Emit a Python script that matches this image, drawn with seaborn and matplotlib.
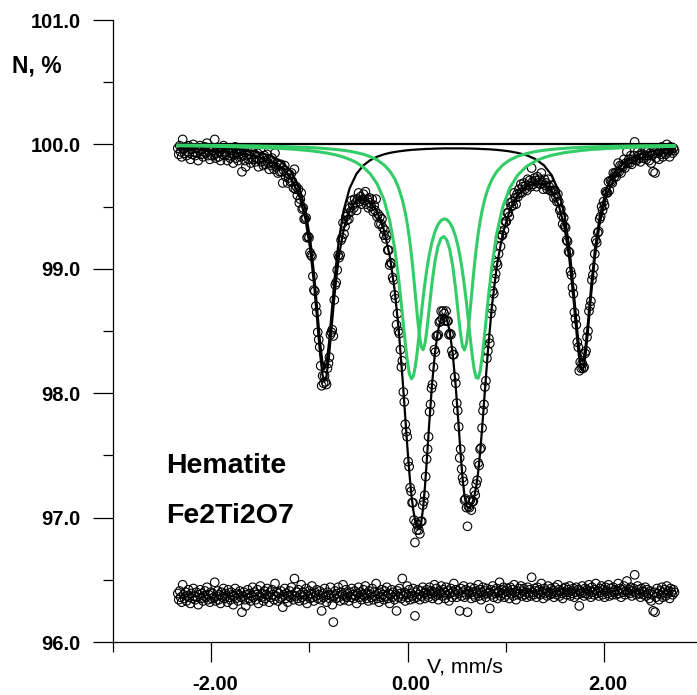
import numpy as np
import matplotlib
matplotlib.use("Agg")
import matplotlib.pyplot as plt
import matplotlib.transforms as mtransforms
import seaborn as sns
from matplotlib.ticker import MultipleLocator, FormatStrFormatter

# %%
# velocity channels (mm/s), evenly spaced
v_first, v_last, n_channels = -2.34, 2.72, 512
vel = np.linspace(v_first, v_last, n_channels)
baseline = 100.0

# measured spectrum, N %
transmission = [
    99.97, 99.92, 99.99, 99.94, 99.90, 100.04, 99.96, 99.93, 99.98, 99.91, 99.94, 99.99, 99.93, 99.88, 99.96, 99.92,
    100.00, 99.94, 99.91, 99.97, 99.93, 99.87, 99.95, 99.99, 99.92, 99.96, 99.90, 99.94, 99.98, 99.93, 100.01, 99.91,
    99.95, 99.88, 99.96, 99.91, 99.95, 99.92, 100.04, 99.89, 99.93, 99.97, 99.90, 99.94, 99.87, 99.96, 99.92, 99.99,
    99.91, 99.94, 99.92, 99.87, 99.97, 99.91, 99.89, 99.95, 99.93, 99.85, 99.92, 99.98, 99.89, 99.93, 99.87, 99.92,
    99.95, 99.90, 99.78, 99.91, 99.94, 99.87, 99.82, 99.91, 99.95, 99.88, 99.92, 99.85, 99.89, 99.96, 99.88, 99.92,
    99.86, 99.89, 99.93, 99.82, 99.88, 99.96, 99.86, 99.89, 99.83, 99.91, 99.84, 99.87, 99.92, 99.85, 99.80, 99.88,
    99.83, 99.89, 99.85, 99.80, 99.93, 99.82, 99.85, 99.77, 99.83, 99.78, 99.84, 99.78, 99.69, 99.79, 99.83, 99.74,
    99.77, 99.69, 99.73, 99.76, 99.70, 99.77, 99.70, 99.65, 99.80, 99.64, 99.66, 99.59, 99.64, 99.53, 99.56, 99.61,
    99.48, 99.49, 99.40, 99.40, 99.41, 99.25, 99.26, 99.25, 99.13, 99.11, 99.10, 98.94, 98.83, 98.82, 98.70, 98.65,
    98.49, 98.43, 98.37, 98.22, 98.06, 98.14, 98.08, 98.14, 98.09, 98.07, 98.20, 98.24, 98.29, 98.47, 98.49, 98.51,
    98.46, 98.75, 98.87, 98.89, 98.99, 99.11, 99.09, 99.11, 99.23, 99.25, 99.37, 99.28, 99.34, 99.42, 99.39, 99.44,
    99.40, 99.49, 99.46, 99.55, 99.51, 99.49, 99.56, 99.53, 99.47, 99.56, 99.61, 99.54, 99.58, 99.52, 99.56, 99.60,
    99.55, 99.62, 99.52, 99.56, 99.49, 99.57, 99.53, 99.50, 99.56, 99.46, 99.51, 99.47, 99.56, 99.42, 99.44, 99.36,
    99.42, 99.36, 99.40, 99.33, 99.27, 99.31, 99.24, 99.27, 99.15, 99.15, 99.03, 99.05, 99.04, 98.93, 98.91, 98.79,
    98.76, 98.55, 98.64, 98.50, 98.48, 98.35, 98.21, 98.26, 98.01, 97.93, 97.75, 97.69, 97.65, 97.45, 97.41, 97.24,
    97.21, 97.12, 97.12, 96.98, 96.80, 96.96, 96.90, 96.94, 96.90, 96.87, 96.97, 96.97, 97.10, 97.13, 97.18, 97.33,
    97.47, 97.55, 97.65, 97.85, 97.91, 98.04, 98.07, 98.21, 98.35, 98.33, 98.46, 98.46, 98.47, 98.57, 98.58, 98.66,
    98.60, 98.66, 98.64, 98.58, 98.66, 98.58, 98.58, 98.47, 98.48, 98.47, 98.34, 98.31, 98.31, 98.13, 98.08, 97.92,
    97.86, 97.73, 97.48, 97.55, 97.39, 97.32, 97.29, 97.14, 97.15, 97.08, 96.93, 97.09, 97.08, 97.14, 97.06, 97.13,
    97.13, 97.21, 97.18, 97.27, 97.30, 97.44, 97.42, 97.55, 97.56, 97.72, 97.86, 97.91, 98.05, 98.10, 98.28, 98.34,
    98.44, 98.40, 98.64, 98.68, 98.82, 98.80, 98.92, 98.96, 99.05, 99.03, 99.12, 99.25, 99.18, 99.27, 99.27, 99.36,
    99.31, 99.38, 99.38, 99.45, 99.45, 99.42, 99.53, 99.50, 99.54, 99.51, 99.61, 99.57, 99.52, 99.60, 99.58, 99.64,
    99.61, 99.68, 99.61, 99.66, 99.69, 99.64, 99.67, 99.63, 99.72, 99.67, 99.71, 99.66, 99.81, 99.70, 99.68, 99.73,
    99.71, 99.66, 99.74, 99.69, 99.72, 99.68, 99.77, 99.69, 99.64, 99.72, 99.67, 99.69, 99.64, 99.72, 99.66, 99.63,
    99.67, 99.62, 99.63, 99.57, 99.63, 99.58, 99.54, 99.60, 99.54, 99.47, 99.48, 99.43, 99.36, 99.41, 99.34, 99.33,
    99.23, 99.22, 99.14, 99.13, 98.98, 98.95, 98.85, 98.80, 98.65, 98.60, 98.55, 98.41, 98.37, 98.18, 98.25, 98.20,
    98.24, 98.20, 98.21, 98.32, 98.34, 98.45, 98.50, 98.66, 98.70, 98.74, 98.91, 98.95, 99.01, 99.12, 99.23, 99.21,
    99.29, 99.30, 99.40, 99.42, 99.50, 99.47, 99.54, 99.51, 99.62, 99.61, 99.61, 99.70, 99.63, 99.71, 99.70, 99.69,
    99.77, 99.74, 99.77, 99.74, 99.78, 99.85, 99.78, 99.83, 99.77, 99.83, 99.82, 99.88, 99.81, 99.85, 99.94, 99.85,
    99.88, 99.85, 99.91, 99.84, 99.88, 99.91, 100.02, 99.88, 99.87, 99.94, 99.91, 99.89, 99.86, 99.93, 99.92, 99.89,
    99.91, 99.95, 99.88, 99.94, 99.91, 99.87, 99.93, 99.85, 99.91, 99.78, 99.93, 99.77, 99.89, 99.96, 99.93, 99.88,
    99.95, 99.92, 99.98, 99.90, 99.94, 99.96, 99.92, 100.00, 99.94, 99.96, 99.90, 99.98, 99.95, 99.93, 99.97, 99.95,
]

# residual row drawn under the spectrum
resid = [
    96.39, 96.34, 96.41, 96.36, 96.32, 96.46, 96.38, 96.35, 96.40, 96.33, 96.37, 96.42, 96.36, 96.31, 96.39, 96.35,
    96.43, 96.37, 96.34, 96.40, 96.36, 96.30, 96.38, 96.42, 96.35, 96.39, 96.33, 96.37, 96.41, 96.36, 96.44, 96.34,
    96.38, 96.32, 96.40, 96.35, 96.39, 96.36, 96.48, 96.33, 96.37, 96.41, 96.34, 96.38, 96.31, 96.40, 96.36, 96.43,
    96.35, 96.39, 96.37, 96.32, 96.42, 96.36, 96.34, 96.40, 96.38, 96.30, 96.37, 96.43, 96.35, 96.39, 96.33, 96.38,
    96.41, 96.36, 96.24, 96.37, 96.40, 96.34, 96.29, 96.38, 96.42, 96.35, 96.39, 96.33, 96.37, 96.44, 96.36, 96.40,
    96.34, 96.38, 96.42, 96.31, 96.37, 96.45, 96.36, 96.39, 96.33, 96.41, 96.35, 96.38, 96.43, 96.37, 96.32, 96.40,
    96.36, 96.42, 96.38, 96.34, 96.47, 96.37, 96.40, 96.33, 96.39, 96.35, 96.41, 96.36, 96.28, 96.38, 96.43, 96.35,
    96.39, 96.32, 96.37, 96.41, 96.36, 96.44, 96.38, 96.34, 96.51, 96.37, 96.40, 96.35, 96.42, 96.33, 96.38, 96.46,
    96.36, 96.40, 96.34, 96.38, 96.43, 96.31, 96.37, 96.41, 96.35, 96.39, 96.45, 96.36, 96.33, 96.40, 96.37, 96.42,
    96.35, 96.38, 96.41, 96.34, 96.25, 96.39, 96.36, 96.43, 96.37, 96.32, 96.40, 96.38, 96.35, 96.44, 96.37, 96.30,
    96.16, 96.37, 96.41, 96.35, 96.39, 96.44, 96.36, 96.33, 96.40, 96.38, 96.46, 96.34, 96.37, 96.42, 96.36, 96.39,
    96.33, 96.40, 96.36, 96.43, 96.38, 96.35, 96.41, 96.37, 96.31, 96.39, 96.44, 96.36, 96.40, 96.34, 96.38, 96.42,
    96.37, 96.45, 96.35, 96.39, 96.33, 96.41, 96.38, 96.36, 96.43, 96.34, 96.40, 96.37, 96.47, 96.35, 96.39, 96.32,
    96.40, 96.36, 96.42, 96.38, 96.34, 96.41, 96.37, 96.44, 96.35, 96.39, 96.31, 96.38, 96.42, 96.36, 96.40, 96.34,
    96.38, 96.25, 96.41, 96.36, 96.43, 96.39, 96.35, 96.51, 96.37, 96.40, 96.33, 96.38, 96.45, 96.36, 96.42, 96.34,
    96.39, 96.37, 96.43, 96.35, 96.21, 96.40, 96.36, 96.42, 96.38, 96.34, 96.41, 96.37, 96.44, 96.39, 96.35, 96.40,
    96.42, 96.38, 96.36, 96.44, 96.39, 96.41, 96.35, 96.40, 96.46, 96.37, 96.43, 96.38, 96.34, 96.41, 96.39, 96.45,
    96.37, 96.42, 96.40, 96.35, 96.44, 96.38, 96.41, 96.33, 96.39, 96.43, 96.36, 96.40, 96.47, 96.38, 96.42, 96.36,
    96.41, 96.39, 96.25, 96.43, 96.37, 96.40, 96.45, 96.36, 96.42, 96.38, 96.24, 96.41, 96.39, 96.44, 96.35, 96.40,
    96.38, 96.43, 96.36, 96.41, 96.39, 96.46, 96.37, 96.42, 96.34, 96.40, 96.44, 96.38, 96.41, 96.36, 96.43, 96.39,
    96.40, 96.27, 96.42, 96.38, 96.45, 96.36, 96.41, 96.39, 96.43, 96.35, 96.40, 96.48, 96.37, 96.42, 96.39, 96.44,
    96.36, 96.41, 96.38, 96.43, 96.40, 96.35, 96.44, 96.39, 96.42, 96.37, 96.46, 96.40, 96.34, 96.41, 96.38, 96.43,
    96.39, 96.45, 96.37, 96.41, 96.43, 96.38, 96.40, 96.36, 96.44, 96.39, 96.42, 96.37, 96.52, 96.40, 96.38, 96.43,
    96.41, 96.36, 96.44, 96.39, 96.42, 96.38, 96.47, 96.40, 96.35, 96.43, 96.39, 96.41, 96.37, 96.45, 96.40, 96.38,
    96.43, 96.39, 96.41, 96.36, 96.44, 96.40, 96.38, 96.46, 96.42, 96.37, 96.41, 96.39, 96.35, 96.43, 96.40, 96.44,
    96.38, 96.42, 96.40, 96.45, 96.37, 96.41, 96.39, 96.43, 96.36, 96.40, 96.44, 96.38, 96.42, 96.29, 96.41, 96.39,
    96.45, 96.40, 96.37, 96.43, 96.39, 96.42, 96.38, 96.46, 96.41, 96.36, 96.44, 96.40, 96.38, 96.42, 96.47, 96.39,
    96.41, 96.37, 96.43, 96.40, 96.45, 96.38, 96.42, 96.36, 96.44, 96.41, 96.39, 96.46, 96.37, 96.43, 96.40, 96.38,
    96.44, 96.40, 96.42, 96.38, 96.41, 96.47, 96.39, 96.43, 96.36, 96.42, 96.40, 96.45, 96.38, 96.41, 96.49, 96.40,
    96.42, 96.39, 96.44, 96.37, 96.41, 96.43, 96.54, 96.40, 96.38, 96.45, 96.42, 96.39, 96.36, 96.43, 96.41, 96.38,
    96.40, 96.44, 96.37, 96.42, 96.39, 96.35, 96.41, 96.33, 96.38, 96.25, 96.40, 96.24, 96.36, 96.43, 96.39, 96.34,
    96.41, 96.38, 96.44, 96.36, 96.40, 96.42, 96.37, 96.45, 96.39, 96.41, 96.35, 96.43, 96.40, 96.38, 96.42, 96.40,
]

# fitted curves, sampled at x_fit
x_fit = [-2.34, -2.15, -1.95, -1.75, -1.55, -1.40, -1.28, -1.18, -1.10, -1.04, -0.99, -0.95, -0.92, -0.89, -0.865,
         -0.845, -0.825, -0.80, -0.77, -0.74, -0.70, -0.65, -0.59, -0.52, -0.45, -0.38, -0.31, -0.24, -0.18, -0.13,
         -0.09, -0.05, -0.02, 0.00, 0.02, 0.04, 0.06, 0.08, 0.10, 0.12, 0.14, 0.16, 0.18, 0.20, 0.22, 0.25, 0.28,
         0.31, 0.34, 0.37, 0.40, 0.43, 0.46, 0.49, 0.52, 0.54, 0.56, 0.58, 0.60, 0.62, 0.64, 0.66, 0.68, 0.70, 0.72,
         0.74, 0.76, 0.79, 0.82, 0.86, 0.91, 0.97, 1.04, 1.12, 1.21, 1.30, 1.39, 1.47, 1.54, 1.60, 1.65, 1.69, 1.72,
         1.745, 1.765, 1.78, 1.795, 1.815, 1.84, 1.87, 1.91, 1.96, 2.03, 2.12, 2.24, 2.38, 2.55, 2.72]

hem_fit = [
    99.986, 99.982, 99.975, 99.964, 99.943, 99.910, 99.860, 99.777, 99.648, 99.472,
    99.229, 98.941, 98.673, 98.403, 98.241, 98.196, 98.241, 98.402, 98.672, 98.940,
    99.228, 99.471, 99.646, 99.763, 99.831, 99.873, 99.901, 99.920, 99.932, 99.939,
    99.944, 99.948, 99.951, 99.953, 99.954, 99.956, 99.957, 99.958, 99.959, 99.960,
    99.961, 99.962, 99.963, 99.964, 99.964, 99.965, 99.966, 99.967, 99.967, 99.968,
    99.968, 99.968, 99.968, 99.968, 99.968, 99.968, 99.968, 99.968, 99.967, 99.967,
    99.967, 99.966, 99.966, 99.965, 99.965, 99.964, 99.963, 99.962, 99.961, 99.959,
    99.956, 99.951, 99.944, 99.932, 99.914, 99.883, 99.832, 99.751, 99.624, 99.429,
    99.160, 98.850, 98.582, 98.382, 98.281, 98.256, 98.281, 98.383, 98.582, 98.850,
    99.160, 99.430, 99.649, 99.790, 99.877, 99.925, 99.953, 99.968,
]
fe1_fit = [
    99.989, 99.987, 99.984, 99.981, 99.976, 99.972, 99.967, 99.962, 99.957, 99.953,
    99.949, 99.945, 99.942, 99.939, 99.936, 99.933, 99.931, 99.927, 99.922, 99.917,
    99.909, 99.897, 99.880, 99.854, 99.817, 99.764, 99.684, 99.557, 99.383, 99.162,
    98.918, 98.617, 98.383, 98.249, 98.154, 98.115, 98.138, 98.219, 98.340, 98.483,
    98.631, 98.772, 98.900, 99.011, 99.105, 99.217, 99.299, 99.354, 99.387, 99.401,
    99.396, 99.372, 99.327, 99.259, 99.162, 99.078, 98.979, 98.863, 98.731, 98.586,
    98.438, 98.300, 98.189, 98.125, 98.120, 98.177, 98.286, 98.506, 98.742, 99.023,
    99.287, 99.497, 99.647, 99.751, 99.821, 99.865, 99.894, 99.913, 99.924, 99.934,
    99.939, 99.943, 99.946, 99.949, 99.950, 99.952, 99.953, 99.954, 99.957, 99.959,
    99.961, 99.963, 99.967, 99.970, 99.975, 99.978, 99.982, 99.984,
]
fe2_fit = [
    99.994, 99.993, 99.992, 99.990, 99.988, 99.985, 99.983, 99.980, 99.978, 99.976,
    99.974, 99.973, 99.971, 99.970, 99.968, 99.967, 99.966, 99.964, 99.962, 99.960,
    99.957, 99.952, 99.945, 99.934, 99.921, 99.902, 99.876, 99.836, 99.786, 99.723,
    99.650, 99.547, 99.441, 99.350, 99.241, 99.111, 98.960, 98.792, 98.621, 98.470,
    98.371, 98.349, 98.407, 98.525, 98.672, 98.889, 99.061, 99.178, 99.243, 99.260,
    99.232, 99.156, 99.026, 98.841, 98.619, 98.479, 98.378, 98.347, 98.398, 98.519,
    98.680, 98.852, 99.015, 99.159, 99.282, 99.384, 99.468, 99.568, 99.644, 99.718,
    99.782, 99.834, 99.874, 99.904, 99.926, 99.942, 99.953, 99.960, 99.965, 99.968,
    99.971, 99.973, 99.974, 99.975, 99.976, 99.976, 99.977, 99.978, 99.978, 99.979,
    99.980, 99.982, 99.983, 99.985, 99.987, 99.989, 99.990, 99.992,
]
total_fit = [
    99.968, 99.961, 99.951, 99.935, 99.906, 99.867, 99.810, 99.719, 99.583, 99.401,
    99.152, 98.859, 98.586, 98.311, 98.145, 98.097, 98.138, 98.294, 98.557, 98.817,
    99.094, 99.320, 99.471, 99.551, 99.568, 99.539, 99.460, 99.313, 99.100, 98.824,
    98.513, 98.113, 97.775, 97.552, 97.350, 97.182, 97.055, 96.969, 96.920, 96.913,
    96.963, 97.083, 97.270, 97.500, 97.741, 98.071, 98.326, 98.499, 98.597, 98.629,
    98.596, 98.496, 98.321, 98.068, 97.749, 97.525, 97.325, 97.178, 97.096, 97.072,
    97.085, 97.118, 97.170, 97.249, 97.367, 97.525, 97.717, 98.036, 98.347, 98.700,
    99.025, 99.282, 99.465, 99.587, 99.661, 99.690, 99.679, 99.624, 99.513, 99.331,
    99.070, 98.766, 98.502, 98.306, 98.207, 98.184, 98.211, 98.315, 98.517, 98.788,
    99.101, 99.375, 99.599, 99.745, 99.839, 99.892, 99.925, 99.944,
]

# %%
sns.set_theme(style="ticks")
plt.rcParams['font.family'] = ['Liberation Sans', 'DejaVu Sans']
plt.rcParams['font.weight'] = 'bold'
plt.rcParams['text.color'] = 'black'

fig = plt.figure(figsize=(6.97, 6.95), dpi=100)
ax = fig.add_axes([113 / 697, 53 / 695, 589 / 697, 622 / 695])

# data points and residuals as open circles
sns.scatterplot(x=vel, y=transmission, ax=ax, s=38, facecolor='none', edgecolor='black', linewidth=0.8)
sns.scatterplot(x=vel, y=resid, ax=ax, s=38, facecolor='none', edgecolor='black', linewidth=0.8)

# fit lines: baseline, total, hematite (black) and the two Fe2Ti2O7 doublets (green)
ax.hlines(baseline, vel[0], vel[-1], color='black', lw=1.6)
sns.lineplot(x=x_fit, y=total_fit, ax=ax, color='black', lw=1.6, estimator=None)
sns.lineplot(x=x_fit, y=hem_fit, ax=ax, color='black', lw=1.6, estimator=None)
sns.lineplot(x=x_fit, y=fe1_fit, ax=ax, color='#33cc66', lw=2.2, estimator=None)
sns.lineplot(x=x_fit, y=fe2_fit, ax=ax, color='#33cc66', lw=2.2, estimator=None)

ax.set_xlim(-3, 3)
ax.set_ylim(96, 101)
sns.despine(ax=ax)
for s in ['left', 'bottom']:
    ax.spines[s].set_color('black')
    ax.spines[s].set_linewidth(0.9)

ax.xaxis.set_major_locator(MultipleLocator(2))
ax.xaxis.set_minor_locator(MultipleLocator(1))
ax.yaxis.set_major_locator(MultipleLocator(1))
ax.yaxis.set_minor_locator(MultipleLocator(0.5))
ax.xaxis.set_major_formatter(FormatStrFormatter('%.2f'))
ax.yaxis.set_major_formatter(FormatStrFormatter('%.1f'))
ax.tick_params(which='major', length=14.5, width=0.9, color='black', labelsize=14.5, labelcolor='black')
ax.tick_params(which='minor', length=7.2, width=0.9, color='black')
ax.tick_params(axis='y', which='major', pad=8.6)
ax.tick_params(axis='x', which='major', pad=9)
ax.set_xlabel('')
ax.set_ylabel('')
shift = mtransforms.ScaledTranslation(3.5 / 100, 0, fig.dpi_scale_trans)
for lab in ax.get_xticklabels():
    lab.set_transform(lab.get_transform() + shift)

fig.text(12 / 697, (695 - 72) / 695, 'N, %', fontsize=16.5, fontweight='bold', va='baseline', color='black')
fig.text(465 / 697, (695 - 667) / 695, 'V, mm/s', fontsize=15.3, fontweight='normal', ha='center', va='center',
         color='black')
ax.text(-2.454, 97.36, 'Hematite', fontsize=20.5, fontweight='bold', va='baseline', color='black')
ax.text(-2.454, 96.953, 'Fe2Ti2O7', fontsize=20.5, fontweight='bold', va='baseline', color='black')

fig.savefig('out.png', dpi=100)
